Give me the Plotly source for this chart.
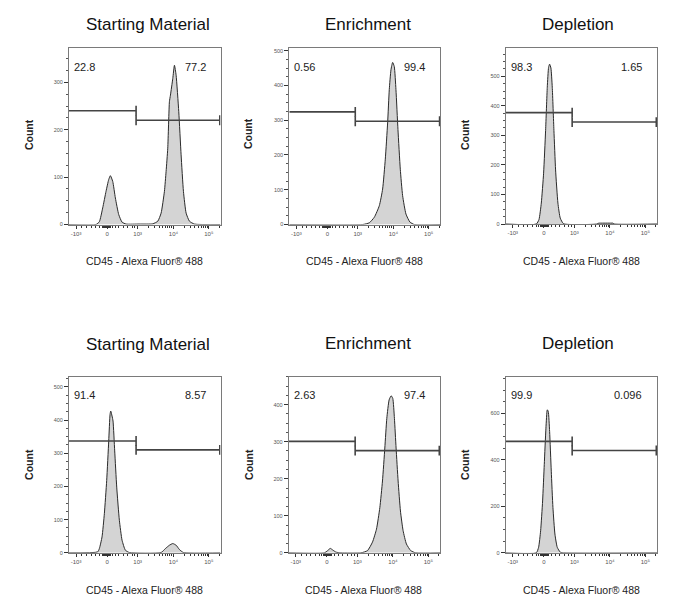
import math
import plotly.graph_objects as go

# ---------------- data (x in biexponential display units) ----------------
panel_titles = ["Starting Material", "Enrichment", "Depletion",
                "Starting Material", "Enrichment", "Depletion"]
x_axis_label = "CD45 - Alexa Fluor\u00ae 488"
y_axis_label = "Count"

x_tick_labels = ["-10\u00b3", "0", "10\u00b3", "10\u2074", "10\u2075"]

left_pct = ["22.8", "0.56", "98.3", "91.4", "2.63", "99.9"]
right_pct = ["77.2", "99.4", "1.65", "8.57", "97.4", "0.096"]

p1_x = [-1.08, -0.316, -0.222, -0.128, -0.034, 0.042, 0.089, 0.155, 0.23, 0.325, 0.419, 0.532,
        0.9, 1.286, 1.428, 1.522, 1.616, 1.663, 1.71, 1.757, 1.786, 1.852, 1.899, 1.946, 2.021,
        2.087, 2.153, 2.229, 2.323, 2.464, 3.2]
p1_y = [0, 0, 6, 35, 70, 95, 103, 91, 56, 21, 5, 1,
        1, 1.5, 7, 24, 70, 112, 161, 259, 273, 308, 336, 315, 238,
        147, 70, 24, 7, 1, 0]

p2_x = [-1.08, 1.0, 1.188, 1.33, 1.471, 1.565, 1.641, 1.707, 1.754, 1.802, 1.849, 1.896, 1.943,
        2.0, 2.066, 2.132, 2.227, 2.34, 2.463, 3.2]
p2_y = [0, 0, 5, 21, 54, 102, 188, 292, 388, 445, 466, 454, 388,
        273, 159, 83, 30, 7, 0, 0]

p3_x = [-1.08, -0.215, -0.139, -0.073, -0.008, 0.049, 0.096, 0.133, 0.162, 0.199, 0.237, 0.284,
        0.331, 0.397, 0.463, 0.557, 1.5, 1.554, 1.6, 1.9, 1.949, 2.0, 3.2]
p3_y = [0, 0, 15, 71, 172, 317, 463, 530, 541, 528, 463, 317,
        183, 71, 20, 1, 0, 3, 3, 3, 3, 0, 0]

p4_x = [-1.08, -0.27, -0.222, -0.147, -0.081, -0.015, 0.042, 0.08, 0.099, 0.136, 0.164, 0.211,
        0.268, 0.343, 0.419, 0.513, 0.626, 1.522, 1.644, 1.757, 1.852, 1.946, 2.04, 2.153, 3.2]
p4_y = [0, 3, 13, 48, 118, 218, 337, 417, 427, 412, 397, 307,
        198, 98, 38, 8, 1, 1, 13, 23, 28, 23, 10, 1, 0]

p5_x = [-1.08, -0.073, 0.021, 0.096, 0.162, 0.256, 0.397, 0.961, 1.149, 1.29, 1.403, 1.498,
        1.573, 1.639, 1.695, 1.761, 1.818, 1.864, 1.911, 1.958, 2.015, 2.081, 2.156, 2.25,
        2.372, 2.513, 3.2]
p5_y = [0, 0, 6, 12, 8, 2, 0, 0, 6, 29, 64, 122,
        194, 283, 363, 413, 424, 417, 363, 283, 194, 113, 60, 24,
        6, 0, 0]

p6_x = [-1.08, -0.215, -0.149, -0.092, -0.036, 0.011, 0.058, 0.096, 0.124, 0.162, 0.209, 0.256,
        0.312, 0.378, 0.463, 0.557, 3.2]
p6_y = [0, 0, 24, 95, 223, 380, 536, 615, 608, 522, 351, 195,
        81, 24, 3, 0, 0]

hist_x = [p1_x, p2_x, p3_x, p4_x, p5_x, p6_x]
hist_y = [p1_y, p2_y, p3_y, p4_y, p5_y, p6_y]

# gates: boundary position, left-gate height, right-gate height
gate_boundary = [0.815, 0.79, 0.80, 0.815, 0.80, 0.80]
gate_left_y = [240, 324, 377, 337, 301, 479]
gate_right_y = [220, 297, 345, 310, 276, 440]
gate_left_start = -1.08
gate_right_end = 3.18

y_max = [372, 507, 595, 531, 476, 758]
y_dtick = [100, 100, 100, 100, 100, 200]

# ---------------- layout geometry (pixels) ----------------
W, H = 681, 610
frames_x = [(69, 220.5), (289.3, 440.3), (505.7, 657),
            (69, 220.5), (288.7, 440), (505.7, 657)]
frames_y = [(47.5, 225), (47.5, 225), (47.5, 224.5),
            (378, 555.5), (378, 555.5), (378, 555.5)]
title_pos = [(148, 24), (368, 24), (578, 24), (148, 346), (368, 345), (578, 345)]
xlab_pos = [(144, 262), (364, 262), (581, 262), (144, 593), (363, 593), (581, 593)]
ylab_pos = [(29, 135), (248, 134), (465, 135), (29, 467), (249, 467), (465, 467)]

X_RANGE = [-1.08, 3.2]
x_tickvals = [-0.88, 0, 0.86, 1.87, 2.87]
x_minor = [-0.72, -0.58, -0.45, -0.33, -0.22, -0.14, -0.1, -0.07, -0.04, -0.02,
           0.02, 0.04, 0.07, 0.1, 0.14, 0.22, 0.33, 0.45, 0.58, 0.7, 0.78]
for base in (0.86, 1.87):
    for m in range(2, 10):
        x_minor.append(base + math.log10(m) * 1.01)
x_minor.append(2.87 + math.log10(2) * 1.0)

FONT = "Liberation Sans, Arial, sans-serif"
fill_col = "#d4d4d4"
line_col = "#2a2a2a"
gate_col = "#444444"

fig = go.Figure()
annotations = []
layout_axes = {}

for i in range(6):
    n = "" if i == 0 else str(i + 1)
    xa, ya = "x" + n, "y" + n
    fig.add_trace(go.Scatter(
        x=hist_x[i], y=hist_y[i], xaxis=xa, yaxis=ya, mode="lines",
        line=dict(color=line_col, width=1, shape="spline", smoothing=0.5),
        fill="tozeroy", fillcolor=fill_col, hoverinfo="skip", showlegend=False))
    # gates
    b = gate_boundary[i]
    fig.add_trace(go.Scatter(
        x=[gate_left_start, b], y=[gate_left_y[i]] * 2, xaxis=xa, yaxis=ya,
        mode="lines", line=dict(color=gate_col, width=1.6), showlegend=False, hoverinfo="skip"))
    fig.add_trace(go.Scatter(
        x=[b, gate_right_end], y=[gate_right_y[i]] * 2, xaxis=xa, yaxis=ya,
        mode="lines", line=dict(color=gate_col, width=1.6), showlegend=False, hoverinfo="skip"))
    fig.add_trace(go.Scatter(
        x=[b, b, gate_right_end], y=[gate_left_y[i], gate_right_y[i], gate_right_y[i]],
        xaxis=xa, yaxis=ya, mode="markers",
        marker=dict(symbol="line-ns", size=7, line=dict(color=gate_col, width=1.6)),
        showlegend=False, hoverinfo="skip"))

    fx0, fx1 = frames_x[i]
    fy0, fy1 = frames_y[i]
    layout_axes["xaxis" + n] = dict(
        domain=[fx0 / W, fx1 / W], anchor=ya, range=X_RANGE,
        tickmode="array", tickvals=x_tickvals, ticktext=x_tick_labels,
        ticks="outside", ticklen=3, tickwidth=1, tickcolor="#333",
        tickfont=dict(size=6, color="#555", family=FONT),
        showline=True, linecolor="#7a7a7a", linewidth=1, mirror=True,
        showgrid=False, zeroline=False, fixedrange=True,
        minor=dict(tickmode="array", tickvals=x_minor, ticks="outside",
                   ticklen=2, tickcolor="#333", tickwidth=1))
    layout_axes["yaxis" + n] = dict(
        domain=[1 - fy1 / H, 1 - fy0 / H], anchor=xa, range=[0, y_max[i]],
        tickmode="linear", tick0=0, dtick=y_dtick[i],
        ticks="outside", ticklen=4, tickwidth=1, tickcolor="#333",
        tickfont=dict(size=5.5, color="#555", family=FONT),
        showline=True, linecolor="#7a7a7a", linewidth=1, mirror=True,
        showgrid=False, zeroline=False, fixedrange=True,
        minor=dict(dtick=y_dtick[i] / 4, ticks="outside", ticklen=2,
                   tickcolor="#555", tickwidth=1))

    tx, ty = title_pos[i]
    annotations.append(dict(text=panel_titles[i], x=tx / W, y=1 - ty / H, xref="paper", yref="paper",
                            showarrow=False, xanchor="center", yanchor="middle",
                            font=dict(size=17, color="#111", family=FONT)))
    lx, ly = xlab_pos[i]
    annotations.append(dict(text=x_axis_label, x=lx / W, y=1 - ly / H, xref="paper", yref="paper",
                            showarrow=False, xanchor="center", yanchor="middle",
                            font=dict(size=10.5, color="#222", family=FONT)))
    cx, cy = ylab_pos[i]
    annotations.append(dict(text="<b>" + y_axis_label + "</b>", x=cx / W, y=1 - cy / H,
                            xref="paper", yref="paper", textangle=-90,
                            showarrow=False, xanchor="center", yanchor="middle",
                            font=dict(size=10.5, color="#222", family=FONT)))
    annotations.append(dict(text=left_pct[i], x=0.02, y=0.895, xref=xa + " domain", yref=ya + " domain",
                            showarrow=False, xanchor="left", yanchor="middle",
                            font=dict(size=11, color="#222", family=FONT)))
    annotations.append(dict(text=right_pct[i], x=0.915, y=0.895, xref=xa + " domain", yref=ya + " domain",
                            showarrow=False, xanchor="right", yanchor="middle",
                            font=dict(size=11, color="#222", family=FONT)))

fig.update_layout(
    width=W, height=H, margin=dict(l=0, r=0, t=0, b=0),
    paper_bgcolor="white", plot_bgcolor="white",
    showlegend=False, annotations=annotations, **layout_axes)

fig.write_html("out.html", config={"displayModeBar": False},
               post_script="document.body.style.margin='0px';document.body.style.overflow='hidden';")
